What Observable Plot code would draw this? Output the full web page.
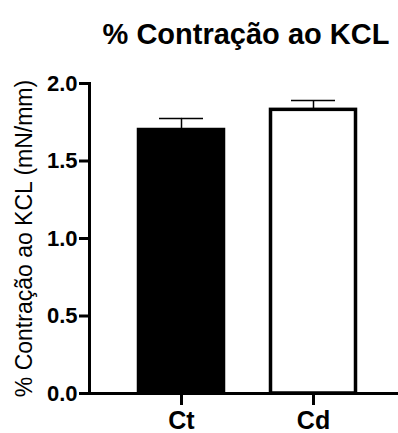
<!DOCTYPE html>
<html>
<head>
<meta charset="utf-8">
<script src="https://cdn.jsdelivr.net/npm/d3@7"></script>
<script src="https://cdn.jsdelivr.net/npm/@observablehq/plot@0.6"></script>
<style>
  body { margin: 0; background: #fff; font-family: "Liberation Sans", Arial, sans-serif; }
  #title { height: 60px; box-sizing: border-box; padding-top: 20px; padding-left: 94px; width: 398px;
           text-align: center; font-size: 29px; line-height: 29px; font-weight: bold; color: #000; white-space: nowrap; }
</style>
</head>
<body>
<div id="title">% Contração ao KCL</div>
<div id="chart"></div>
<script>
const categories = ["Ct", "Cd"];
const means = [1.70, 1.83];
const sems = [0.075, 0.06];
const yTicks = [0, 0.5, 1.0, 1.5, 2.0];
const yLabel = "% Contração ao KCL (mN/mm)";

const data = categories.map((c, i) => ({cat: c, mean: means[i], top: means[i] + sems[i]}));

const plot = Plot.plot({
  width: 398,
  height: 373,
  marginLeft: 89,
  marginRight: 0,
  marginTop: 23,
  marginBottom: 40,
  style: {fontFamily: "'Liberation Sans', Arial, sans-serif", color: "#000", background: "#fff", overflow: "visible"},
  x: {domain: categories, range: [137, 357], paddingInner: 1/3, paddingOuter: 0, label: null},
  y: {domain: [0, 2.0], label: null},
  color: {domain: categories, range: ["black", "white"]},
  marks: [
    Plot.ruleX(data, {x: "cat", y1: "mean", y2: "top", stroke: "black", strokeWidth: 1.5}),
    Plot.tickY(data, {x: "cat", y: "top", stroke: "black", strokeWidth: 1.5, insetLeft: 22, insetRight: 22}),
    Plot.barY(data, {x: "cat", y: "mean", fill: "cat", stroke: "black", strokeWidth: 3.5, insetLeft: 1.5, insetRight: 1.5}),
    Plot.ruleY([0], {stroke: "black", strokeWidth: 3}),
    Plot.frame({anchor: "left", stroke: "black", strokeWidth: 3}),
    Plot.axisY({ticks: yTicks, tickFormat: d3.format(".1f"), tickSize: 10, tickPadding: 2,
                fontSize: 22, fontWeight: "bold", strokeWidth: 3, label: null}),
    Plot.axisX({tickSize: 12, tickPadding: 6, fontSize: 25, fontWeight: "bold", strokeWidth: 3, label: null}),
    Plot.text([yLabel], {frameAnchor: "left", rotate: -90, dx: -65, textAnchor: "middle", fontSize: 23, fill: "black"})
  ]
});
document.getElementById("chart").appendChild(plot);
</script>
</body>
</html>
